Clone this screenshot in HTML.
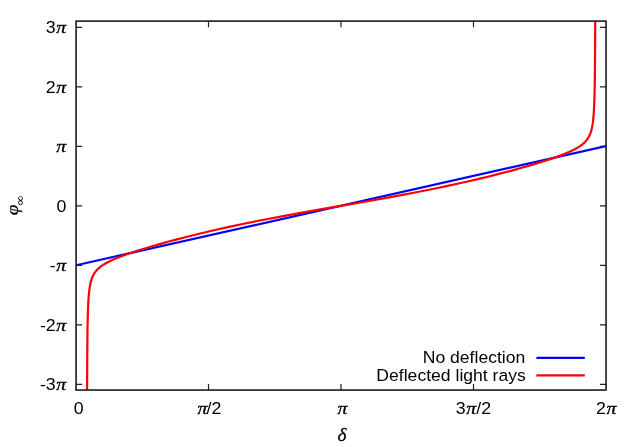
<!DOCTYPE html>
<html><head><meta charset="utf-8"><title>plot</title>
<style>
html,body{margin:0;padding:0;background:#fff;}
svg{display:block;will-change:transform;opacity:0.999;}
text{font-family:"Liberation Sans",sans-serif;font-size:15.7px;fill:#000;}
.sym{font-family:"Liberation Serif",serif;font-style:italic;font-size:17.6px;stroke:#000;stroke-width:0.3px;}
</style></head><body>
<svg width="638" height="447" viewBox="0 0 638 447">
<rect width="638" height="447" fill="#fff"/>
<defs><clipPath id="c"><rect x="76.07" y="21.1" width="529.98" height="368.95"/></clipPath></defs>
<path d="M76.07,384.35h6.1 M606.05,384.35h-6.1 M76.07,324.85h6.1 M606.05,324.85h-6.1 M76.07,265.35h6.1 M606.05,265.35h-6.1 M76.07,205.85h6.1 M606.05,205.85h-6.1 M76.07,146.35h6.1 M606.05,146.35h-6.1 M76.07,86.85h6.1 M606.05,86.85h-6.1 M76.07,27.35h6.1 M606.05,27.35h-6.1 M208.5,390.05v-6.1 M208.5,21.1v6.1 M341,390.05v-6.1 M341,21.1v6.1 M473.5,390.05v-6.1 M473.5,21.1v6.1" stroke="#222" stroke-width="1.2" fill="none"/>
<g clip-path="url(#c)" fill="none" stroke-width="2.2" stroke-linejoin="round">
<path d="M76,265.3 L606,146.1" stroke="#0000ff"/>
<path d="M87.09,389.78 L87.30,348.52 L87.46,333.03 L87.66,321.37 L87.92,311.51 L88.26,303.16 L88.66,296.80 L89.18,291.29 L89.49,288.81 L89.85,286.49 L90.25,284.32 L90.71,282.29 L91.23,280.38 L91.81,278.58 L92.48,276.88 L93.04,275.66 L93.87,274.10 L94.57,272.98 L95.61,271.53 L96.48,270.48 L97.77,269.10 L98.86,268.09 L100.05,267.09 L101.36,266.10 L103.85,264.44 L106.76,262.76 L110.16,261.02 L113.30,259.58 L117.06,257.99 L121.56,256.23 L126.80,254.31 L132.04,252.51 L138.78,250.31 L145.52,248.21 L153.01,245.98 L160.50,243.83 L168.74,241.55 L176.98,239.35 L185.22,237.22 L194.21,234.97 L210.68,231.04 L227.91,227.16 L245.13,223.51 L263.86,219.75 L281.83,216.33 L302.05,212.63 L327.52,208.14 L341.00,205.80 L342.05,205.67 L369.01,200.96 L386.24,197.89 L401.22,195.13 L417.69,191.99 L432.67,189.01 L447.65,185.89 L461.88,182.78 L470.87,180.74 L479.86,178.63 L488.84,176.45 L497.83,174.19 L506.07,172.06 L514.31,169.85 L522.55,167.56 L530.04,165.40 L536.78,163.39 L543.52,161.29 L549.51,159.34 L555.50,157.29 L560.74,155.37 L565.24,153.61 L569.00,152.02 L572.86,150.22 L574.91,149.18 L577.34,147.83 L578.98,146.83 L580.94,145.50 L582.25,144.51 L583.81,143.17 L585.19,141.81 L586.41,140.42 L587.48,138.99 L588.43,137.50 L589.26,135.94 L589.99,134.31 L590.64,132.58 L591.34,130.28 L591.83,128.31 L592.35,125.67 L592.72,123.39 L593.12,120.31 L593.39,117.66 L593.69,114.06 L594.16,105.81 L594.51,95.91 L594.76,83.99 L594.96,68.03 L595.10,48.41 L595.21,21.82" stroke="#ff0000"/>
</g>
<path d="M536.4,357.9H584.8" stroke="#0000ff" stroke-width="2.2"/>
<path d="M536.4,375.4H584.8" stroke="#ff0000" stroke-width="2.2"/>
<rect x="76.07" y="21.1" width="529.98" height="368.95" fill="none" stroke="#141414" stroke-width="1.55"/>
<text transform="translate(66.3,33.05) scale(1.13,1)" text-anchor="end" >3<tspan class="sym" dx="0.55">π</tspan></text>
<text transform="translate(66.3,92.55) scale(1.13,1)" text-anchor="end" >2<tspan class="sym" dx="0.55">π</tspan></text>
<text transform="translate(66.3,152.05) scale(1.13,1)" text-anchor="end" ><tspan class="sym">π</tspan></text>
<text transform="translate(66.3,211.55) scale(1.13,1)" text-anchor="end" >0</text>
<text transform="translate(66.3,271.05) scale(1.13,1)" text-anchor="end" >-<tspan class="sym" dx="0.55">π</tspan></text>
<text transform="translate(66.3,330.55) scale(1.13,1)" text-anchor="end" >-2<tspan class="sym" dx="0.55">π</tspan></text>
<text transform="translate(66.3,390.05) scale(1.13,1)" text-anchor="end" >-3<tspan class="sym" dx="0.55">π</tspan></text>
<text transform="translate(78.8,413.7) scale(1.13,1)" text-anchor="middle" >0</text>
<text transform="translate(209.4,413.7) scale(1.13,1)" text-anchor="middle" ><tspan class="sym">π</tspan><tspan dx="-0.8">/2</tspan></text>
<text transform="translate(342.4,413.7) scale(1.13,1)" text-anchor="middle" ><tspan class="sym">π</tspan></text>
<text transform="translate(473.4,413.7) scale(1.13,1)" text-anchor="middle" >3<tspan class="sym" dx="0.55">π</tspan>/2</text>
<text transform="translate(606.3,413.7) scale(1.13,1)" text-anchor="middle" >2<tspan class="sym" dx="0.55">π</tspan></text>
<text transform="translate(525.3,362.9) scale(1.12,1)" text-anchor="end" >No deflection</text>
<text transform="translate(525.8,381.0) scale(1.12,1)" text-anchor="end" >Deflected light rays</text>
<text transform="translate(342.0,441) scale(1.02,1)" text-anchor="middle" class="sym" style="font-size:18.9px">δ</text>
<g transform="translate(17.6,215.2) rotate(-90)"><text transform="scale(1.13,1)" class="sym" style="font-size:17px">φ<tspan dy="6.0" dx="-0.6" style="font-size:12px;font-style:normal;stroke-width:0.12px">∞</tspan></text></g>
</svg>
</body></html>
